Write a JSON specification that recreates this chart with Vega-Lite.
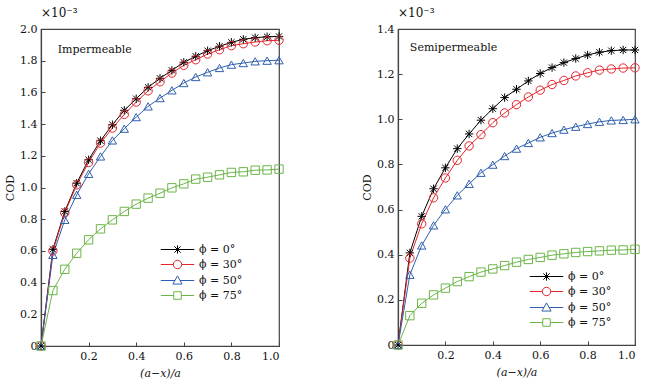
{
  "$schema": "https://vega.github.io/schema/vega-lite/v6.json",
  "background": "white",
  "padding": {"left": 3, "top": 6, "right": 10, "bottom": 6},
  "spacing": 63,
  "config": {
    "font": "DejaVu Serif",
    "view": {"stroke": "#444", "strokeWidth": 1.2},
    "axis": {
      "grid": false,
      "domainColor": "#444",
      "domainWidth": 1.2,
      "tickColor": "#444",
      "tickSize": -4,
      "labelPadding": 8,
      "labelOverlap": false,
      "labelFont": "DejaVu Serif",
      "labelFontSize": 11,
      "labelColor": "#111",
      "titleFont": "DejaVu Serif",
      "titleFontSize": 11,
      "titleFontWeight": "normal",
      "titleColor": "#111"
    },
    "legend": {
      "labelFont": "DejaVu Serif",
      "labelFontSize": 11,
      "labelColor": "#111",
      "symbolOpacity": 1
    },
    "point": {"filled": false, "size": 70, "strokeWidth": 1, "opacity": 1},
    "line": {"strokeWidth": 1},
    "title": {"font": "DejaVu Serif", "fontSize": 12, "fontWeight": "normal", "anchor": "start", "frame": "group", "offset": 3, "color": "#111"}
  },
  "datasets": {
    "imp": [
      {"series": "ϕ = 0°", "x": 0, "y": 0}, {"series": "ϕ = 0°", "x": 0.05, "y": 0.61}, {"series": "ϕ = 0°", "x": 0.1, "y": 0.849}, {"series": "ϕ = 0°", "x": 0.15, "y": 1.027}, {"series": "ϕ = 0°", "x": 0.2, "y": 1.175}, {"series": "ϕ = 0°", "x": 0.25, "y": 1.295}, {"series": "ϕ = 0°", "x": 0.3, "y": 1.396}, {"series": "ϕ = 0°", "x": 0.35, "y": 1.487}, {"series": "ϕ = 0°", "x": 0.4, "y": 1.56}, {"series": "ϕ = 0°", "x": 0.45, "y": 1.632}, {"series": "ϕ = 0°", "x": 0.5, "y": 1.689}, {"series": "ϕ = 0°", "x": 0.55, "y": 1.739}, {"series": "ϕ = 0°", "x": 0.6, "y": 1.79}, {"series": "ϕ = 0°", "x": 0.65, "y": 1.828}, {"series": "ϕ = 0°", "x": 0.7, "y": 1.863}, {"series": "ϕ = 0°", "x": 0.75, "y": 1.891}, {"series": "ϕ = 0°", "x": 0.8, "y": 1.916}, {"series": "ϕ = 0°", "x": 0.85, "y": 1.935}, {"series": "ϕ = 0°", "x": 0.9, "y": 1.945}, {"series": "ϕ = 0°", "x": 0.95, "y": 1.951}, {"series": "ϕ = 0°", "x": 1.0, "y": 1.953},
      {"series": "ϕ = 30°", "x": 0, "y": 0}, {"series": "ϕ = 30°", "x": 0.05, "y": 0.60}, {"series": "ϕ = 30°", "x": 0.1, "y": 0.84}, {"series": "ϕ = 30°", "x": 0.15, "y": 1.017}, {"series": "ϕ = 30°", "x": 0.2, "y": 1.158}, {"series": "ϕ = 30°", "x": 0.25, "y": 1.28}, {"series": "ϕ = 30°", "x": 0.3, "y": 1.375}, {"series": "ϕ = 30°", "x": 0.35, "y": 1.461}, {"series": "ϕ = 30°", "x": 0.4, "y": 1.539}, {"series": "ϕ = 30°", "x": 0.45, "y": 1.61}, {"series": "ϕ = 30°", "x": 0.5, "y": 1.667}, {"series": "ϕ = 30°", "x": 0.55, "y": 1.722}, {"series": "ϕ = 30°", "x": 0.6, "y": 1.771}, {"series": "ϕ = 30°", "x": 0.65, "y": 1.806}, {"series": "ϕ = 30°", "x": 0.7, "y": 1.842}, {"series": "ϕ = 30°", "x": 0.75, "y": 1.869}, {"series": "ϕ = 30°", "x": 0.8, "y": 1.895}, {"series": "ϕ = 30°", "x": 0.85, "y": 1.907}, {"series": "ϕ = 30°", "x": 0.9, "y": 1.918}, {"series": "ϕ = 30°", "x": 0.95, "y": 1.926}, {"series": "ϕ = 30°", "x": 1.0, "y": 1.929},
      {"series": "ϕ = 50°", "x": 0, "y": 0}, {"series": "ϕ = 50°", "x": 0.05, "y": 0.575}, {"series": "ϕ = 50°", "x": 0.1, "y": 0.796}, {"series": "ϕ = 50°", "x": 0.15, "y": 0.954}, {"series": "ϕ = 50°", "x": 0.2, "y": 1.086}, {"series": "ϕ = 50°", "x": 0.25, "y": 1.196}, {"series": "ϕ = 50°", "x": 0.3, "y": 1.297}, {"series": "ϕ = 50°", "x": 0.35, "y": 1.371}, {"series": "ϕ = 50°", "x": 0.4, "y": 1.444}, {"series": "ϕ = 50°", "x": 0.45, "y": 1.512}, {"series": "ϕ = 50°", "x": 0.5, "y": 1.564}, {"series": "ϕ = 50°", "x": 0.55, "y": 1.613}, {"series": "ϕ = 50°", "x": 0.6, "y": 1.659}, {"series": "ϕ = 50°", "x": 0.65, "y": 1.697}, {"series": "ϕ = 50°", "x": 0.7, "y": 1.727}, {"series": "ϕ = 50°", "x": 0.75, "y": 1.754}, {"series": "ϕ = 50°", "x": 0.8, "y": 1.775}, {"series": "ϕ = 50°", "x": 0.85, "y": 1.785}, {"series": "ϕ = 50°", "x": 0.9, "y": 1.796}, {"series": "ϕ = 50°", "x": 0.95, "y": 1.8}, {"series": "ϕ = 50°", "x": 1.0, "y": 1.803},
      {"series": "ϕ = 75°", "x": 0, "y": 0}, {"series": "ϕ = 75°", "x": 0.05, "y": 0.35}, {"series": "ϕ = 75°", "x": 0.1, "y": 0.484}, {"series": "ϕ = 75°", "x": 0.15, "y": 0.585}, {"series": "ϕ = 75°", "x": 0.2, "y": 0.67}, {"series": "ϕ = 75°", "x": 0.25, "y": 0.739}, {"series": "ϕ = 75°", "x": 0.3, "y": 0.796}, {"series": "ϕ = 75°", "x": 0.35, "y": 0.849}, {"series": "ϕ = 75°", "x": 0.4, "y": 0.895}, {"series": "ϕ = 75°", "x": 0.45, "y": 0.933}, {"series": "ϕ = 75°", "x": 0.5, "y": 0.964}, {"series": "ϕ = 75°", "x": 0.55, "y": 0.998}, {"series": "ϕ = 75°", "x": 0.6, "y": 1.023}, {"series": "ϕ = 75°", "x": 0.65, "y": 1.053}, {"series": "ϕ = 75°", "x": 0.7, "y": 1.065}, {"series": "ϕ = 75°", "x": 0.75, "y": 1.08}, {"series": "ϕ = 75°", "x": 0.8, "y": 1.095}, {"series": "ϕ = 75°", "x": 0.85, "y": 1.099}, {"series": "ϕ = 75°", "x": 0.9, "y": 1.109}, {"series": "ϕ = 75°", "x": 0.95, "y": 1.111}, {"series": "ϕ = 75°", "x": 1.0, "y": 1.116}
    ],
    "semi": [
      {"series": "ϕ = 0°", "x": 0, "y": 0}, {"series": "ϕ = 0°", "x": 0.05, "y": 0.408}, {"series": "ϕ = 0°", "x": 0.1, "y": 0.57}, {"series": "ϕ = 0°", "x": 0.15, "y": 0.692}, {"series": "ϕ = 0°", "x": 0.2, "y": 0.785}, {"series": "ϕ = 0°", "x": 0.25, "y": 0.87}, {"series": "ϕ = 0°", "x": 0.3, "y": 0.935}, {"series": "ϕ = 0°", "x": 0.35, "y": 0.996}, {"series": "ϕ = 0°", "x": 0.4, "y": 1.047}, {"series": "ϕ = 0°", "x": 0.45, "y": 1.096}, {"series": "ϕ = 0°", "x": 0.5, "y": 1.133}, {"series": "ϕ = 0°", "x": 0.55, "y": 1.17}, {"series": "ϕ = 0°", "x": 0.6, "y": 1.203}, {"series": "ϕ = 0°", "x": 0.65, "y": 1.229}, {"series": "ϕ = 0°", "x": 0.7, "y": 1.251}, {"series": "ϕ = 0°", "x": 0.75, "y": 1.269}, {"series": "ϕ = 0°", "x": 0.8, "y": 1.285}, {"series": "ϕ = 0°", "x": 0.85, "y": 1.297}, {"series": "ϕ = 0°", "x": 0.9, "y": 1.304}, {"series": "ϕ = 0°", "x": 0.95, "y": 1.307}, {"series": "ϕ = 0°", "x": 1.0, "y": 1.307},
      {"series": "ϕ = 30°", "x": 0, "y": 0}, {"series": "ϕ = 30°", "x": 0.05, "y": 0.385}, {"series": "ϕ = 30°", "x": 0.1, "y": 0.537}, {"series": "ϕ = 30°", "x": 0.15, "y": 0.652}, {"series": "ϕ = 30°", "x": 0.2, "y": 0.74}, {"series": "ϕ = 30°", "x": 0.25, "y": 0.818}, {"series": "ϕ = 30°", "x": 0.3, "y": 0.882}, {"series": "ϕ = 30°", "x": 0.35, "y": 0.932}, {"series": "ϕ = 30°", "x": 0.4, "y": 0.985}, {"series": "ϕ = 30°", "x": 0.45, "y": 1.028}, {"series": "ϕ = 30°", "x": 0.5, "y": 1.065}, {"series": "ϕ = 30°", "x": 0.55, "y": 1.099}, {"series": "ϕ = 30°", "x": 0.6, "y": 1.129}, {"series": "ϕ = 30°", "x": 0.65, "y": 1.154}, {"series": "ϕ = 30°", "x": 0.7, "y": 1.172}, {"series": "ϕ = 30°", "x": 0.75, "y": 1.192}, {"series": "ϕ = 30°", "x": 0.8, "y": 1.206}, {"series": "ϕ = 30°", "x": 0.85, "y": 1.218}, {"series": "ϕ = 30°", "x": 0.9, "y": 1.223}, {"series": "ϕ = 30°", "x": 0.95, "y": 1.227}, {"series": "ϕ = 30°", "x": 1.0, "y": 1.228},
      {"series": "ϕ = 50°", "x": 0, "y": 0}, {"series": "ϕ = 50°", "x": 0.05, "y": 0.311}, {"series": "ϕ = 50°", "x": 0.1, "y": 0.441}, {"series": "ϕ = 50°", "x": 0.15, "y": 0.53}, {"series": "ϕ = 50°", "x": 0.2, "y": 0.601}, {"series": "ϕ = 50°", "x": 0.25, "y": 0.663}, {"series": "ϕ = 50°", "x": 0.3, "y": 0.714}, {"series": "ϕ = 50°", "x": 0.35, "y": 0.763}, {"series": "ϕ = 50°", "x": 0.4, "y": 0.799}, {"series": "ϕ = 50°", "x": 0.45, "y": 0.837}, {"series": "ϕ = 50°", "x": 0.5, "y": 0.87}, {"series": "ϕ = 50°", "x": 0.55, "y": 0.895}, {"series": "ϕ = 50°", "x": 0.6, "y": 0.92}, {"series": "ϕ = 50°", "x": 0.65, "y": 0.939}, {"series": "ϕ = 50°", "x": 0.7, "y": 0.954}, {"series": "ϕ = 50°", "x": 0.75, "y": 0.967}, {"series": "ϕ = 50°", "x": 0.8, "y": 0.979}, {"series": "ϕ = 50°", "x": 0.85, "y": 0.989}, {"series": "ϕ = 50°", "x": 0.9, "y": 0.995}, {"series": "ϕ = 50°", "x": 0.95, "y": 0.997}, {"series": "ϕ = 50°", "x": 1.0, "y": 1.0},
      {"series": "ϕ = 75°", "x": 0, "y": 0}, {"series": "ϕ = 75°", "x": 0.05, "y": 0.13}, {"series": "ϕ = 75°", "x": 0.1, "y": 0.185}, {"series": "ϕ = 75°", "x": 0.15, "y": 0.222}, {"series": "ϕ = 75°", "x": 0.2, "y": 0.252}, {"series": "ϕ = 75°", "x": 0.25, "y": 0.281}, {"series": "ϕ = 75°", "x": 0.3, "y": 0.303}, {"series": "ϕ = 75°", "x": 0.35, "y": 0.323}, {"series": "ϕ = 75°", "x": 0.4, "y": 0.337}, {"series": "ϕ = 75°", "x": 0.45, "y": 0.352}, {"series": "ϕ = 75°", "x": 0.5, "y": 0.367}, {"series": "ϕ = 75°", "x": 0.55, "y": 0.379}, {"series": "ϕ = 75°", "x": 0.6, "y": 0.388}, {"series": "ϕ = 75°", "x": 0.65, "y": 0.398}, {"series": "ϕ = 75°", "x": 0.7, "y": 0.404}, {"series": "ϕ = 75°", "x": 0.75, "y": 0.41}, {"series": "ϕ = 75°", "x": 0.8, "y": 0.414}, {"series": "ϕ = 75°", "x": 0.85, "y": 0.417}, {"series": "ϕ = 75°", "x": 0.9, "y": 0.42}, {"series": "ϕ = 75°", "x": 0.95, "y": 0.421}, {"series": "ϕ = 75°", "x": 1.0, "y": 0.424}
    ],
    "impLabel": [{"label": "Impermeable", "x": 0.07, "y": 1.87}],
    "semiLabel": [{"label": "Semipermeable", "x": 0.05, "y": 1.314}]
  },
  "resolve": {"scale": {"color": "independent", "shape": "independent"}, "legend": {"color": "independent", "shape": "independent"}},
  "hconcat": [
    {
      "width": 238,
      "height": 317,
      "title": {"text": "×10⁻³"},
      "encoding": {
        "x": {"field": "x", "type": "quantitative", "scale": {"domain": [0, 1]}, "axis": {"title": "(a−x)/a", "titleFontStyle": "italic", "values": [0.2, 0.4, 0.6, 0.8, 1.0], "format": ".1f", "titlePadding": 6}},
        "y": {"field": "y", "type": "quantitative", "scale": {"domain": [0, 2]}, "axis": {"title": "COD", "values": [0, 0.2, 0.4, 0.6, 0.8, 1.0, 1.2, 1.4, 1.6, 1.8, 2.0], "tickCount": 20, "labelExpr": "datum.value == 0 ? '0' : format(datum.value, '.1f')", "titlePadding": 4}}
      },
      "layer": [
        {"data": {"name": "imp"}, "transform": [{"filter": "datum.series == 'ϕ = 0°'"}], "mark": {"type": "line", "color": "#000000"}, "encoding": {}},
        {"data": {"name": "imp"}, "transform": [{"filter": "datum.series == 'ϕ = 30°'"}], "mark": {"type": "line", "color": "#e3262d"}, "encoding": {}},
        {"data": {"name": "imp"}, "transform": [{"filter": "datum.series == 'ϕ = 50°'"}], "mark": {"type": "line", "color": "#2f5fae"}, "encoding": {}},
        {"data": {"name": "imp"}, "transform": [{"filter": "datum.series == 'ϕ = 75°'"}], "mark": {"type": "line", "color": "#6cb548"}, "encoding": {}},
        {"data": {"name": "imp"}, "transform": [{"filter": "datum.series == 'ϕ = 0°'"}], "mark": {"type": "point", "shape": "M-1,0L1,0M0,-1L0,1M-0.75,-0.75L0.75,0.75M-0.75,0.75L0.75,-0.75", "color": "#000000"}},
        {"data": {"name": "imp"}, "transform": [{"filter": "datum.series == 'ϕ = 30°'"}], "mark": {"type": "point", "shape": "circle", "color": "#e3262d"}},
        {"data": {"name": "imp"}, "transform": [{"filter": "datum.series == 'ϕ = 50°'"}], "mark": {"type": "point", "shape": "triangle-up", "color": "#2f5fae"}},
        {"data": {"name": "imp"}, "transform": [{"filter": "datum.series == 'ϕ = 75°'"}], "mark": {"type": "point", "shape": "square", "color": "#6cb548"}},
        {
          "data": {"name": "imp"},
          "mark": {"type": "point", "opacity": 0},
          "encoding": {
            "color": {"field": "series", "type": "nominal", "scale": {"domain": ["ϕ = 0°", "ϕ = 30°", "ϕ = 50°", "ϕ = 75°"], "range": ["#000000", "#e3262d", "#2f5fae", "#6cb548"]},
              "legend": {"title": null, "orient": "none", "legendX": 131, "legendY": 215, "labelOffset": 16, "rowPadding": 2, "symbolSize": 70, "symbolStrokeWidth": 1, "symbolOpacity": 1}},
            "shape": {"field": "series", "type": "nominal", "scale": {"domain": ["ϕ = 0°", "ϕ = 30°", "ϕ = 50°", "ϕ = 75°"], "range": ["M-4,0L4,0M0,-1L0,1M-0.75,-0.75L0.75,0.75M-0.75,0.75L0.75,-0.75", "M-4,0L-1,0M1,0L4,0M1,0A1,1,0,1,1,-1,0A1,1,0,1,1,1,0", "M-4,0L-0.6,0M0.6,0L4,0M0,-1.1L1.1,0.85L-1.1,0.85Z", "M-4,0L-0.9,0M0.9,0L4,0M-0.9,-0.9L0.9,-0.9L0.9,0.9L-0.9,0.9Z"]},
              "legend": {"title": null, "orient": "none", "legendX": 131, "legendY": 215, "labelOffset": 16, "rowPadding": 2, "symbolSize": 70, "symbolStrokeWidth": 1, "symbolOpacity": 1}}
          }
        },
        {
          "data": {"name": "impLabel"},
          "mark": {"type": "text", "align": "left", "baseline": "middle", "fontSize": 11, "font": "DejaVu Serif", "color": "#111"},
          "encoding": {"text": {"field": "label"}}
        }
      ]
    },
    {
      "width": 237,
      "height": 316,
      "title": {"text": "×10⁻³"},
      "encoding": {
        "x": {"field": "x", "type": "quantitative", "scale": {"domain": [0, 1]}, "axis": {"title": "(a−x)/a", "titleFontStyle": "italic", "values": [0.2, 0.4, 0.6, 0.8, 1.0], "format": ".1f", "titlePadding": 6}},
        "y": {"field": "y", "type": "quantitative", "scale": {"domain": [0, 1.4]}, "axis": {"title": "COD", "values": [0, 0.2, 0.4, 0.6, 0.8, 1.0, 1.2, 1.4], "tickCount": 20, "labelExpr": "datum.value == 0 ? '0' : format(datum.value, '.1f')", "titlePadding": 4}}
      },
      "layer": [
        {"data": {"name": "semi"}, "transform": [{"filter": "datum.series == 'ϕ = 0°'"}], "mark": {"type": "line", "color": "#000000"}, "encoding": {}},
        {"data": {"name": "semi"}, "transform": [{"filter": "datum.series == 'ϕ = 30°'"}], "mark": {"type": "line", "color": "#e3262d"}, "encoding": {}},
        {"data": {"name": "semi"}, "transform": [{"filter": "datum.series == 'ϕ = 50°'"}], "mark": {"type": "line", "color": "#2f5fae"}, "encoding": {}},
        {"data": {"name": "semi"}, "transform": [{"filter": "datum.series == 'ϕ = 75°'"}], "mark": {"type": "line", "color": "#6cb548"}, "encoding": {}},
        {"data": {"name": "semi"}, "transform": [{"filter": "datum.series == 'ϕ = 0°'"}], "mark": {"type": "point", "shape": "M-1,0L1,0M0,-1L0,1M-0.75,-0.75L0.75,0.75M-0.75,0.75L0.75,-0.75", "color": "#000000"}},
        {"data": {"name": "semi"}, "transform": [{"filter": "datum.series == 'ϕ = 30°'"}], "mark": {"type": "point", "shape": "circle", "color": "#e3262d"}},
        {"data": {"name": "semi"}, "transform": [{"filter": "datum.series == 'ϕ = 50°'"}], "mark": {"type": "point", "shape": "triangle-up", "color": "#2f5fae"}},
        {"data": {"name": "semi"}, "transform": [{"filter": "datum.series == 'ϕ = 75°'"}], "mark": {"type": "point", "shape": "square", "color": "#6cb548"}},
        {
          "data": {"name": "semi"},
          "mark": {"type": "point", "opacity": 0},
          "encoding": {
            "color": {"field": "series", "type": "nominal", "scale": {"domain": ["ϕ = 0°", "ϕ = 30°", "ϕ = 50°", "ϕ = 75°"], "range": ["#000000", "#e3262d", "#2f5fae", "#6cb548"]},
              "legend": {"title": null, "orient": "none", "legendX": 143, "legendY": 242, "labelOffset": 16, "rowPadding": 2, "symbolSize": 70, "symbolStrokeWidth": 1, "symbolOpacity": 1}},
            "shape": {"field": "series", "type": "nominal", "scale": {"domain": ["ϕ = 0°", "ϕ = 30°", "ϕ = 50°", "ϕ = 75°"], "range": ["M-4,0L4,0M0,-1L0,1M-0.75,-0.75L0.75,0.75M-0.75,0.75L0.75,-0.75", "M-4,0L-1,0M1,0L4,0M1,0A1,1,0,1,1,-1,0A1,1,0,1,1,1,0", "M-4,0L-0.6,0M0.6,0L4,0M0,-1.1L1.1,0.85L-1.1,0.85Z", "M-4,0L-0.9,0M0.9,0L4,0M-0.9,-0.9L0.9,-0.9L0.9,0.9L-0.9,0.9Z"]},
              "legend": {"title": null, "orient": "none", "legendX": 143, "legendY": 242, "labelOffset": 16, "rowPadding": 2, "symbolSize": 70, "symbolStrokeWidth": 1, "symbolOpacity": 1}}
          }
        },
        {
          "data": {"name": "semiLabel"},
          "mark": {"type": "text", "align": "left", "baseline": "middle", "fontSize": 11, "font": "DejaVu Serif", "color": "#111"},
          "encoding": {"text": {"field": "label"}}
        }
      ]
    }
  ]
}
